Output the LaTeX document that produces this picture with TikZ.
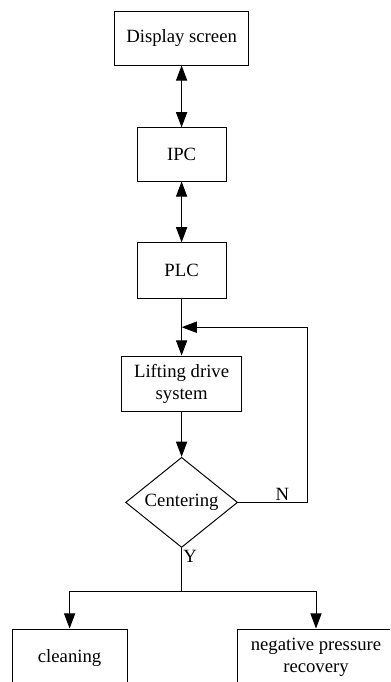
\documentclass[tikz,border=0pt]{standalone}
\usepackage{fontspec}
\setmainfont{Liberation Serif}
\usepackage{tikz}
\usetikzlibrary{arrows.meta,shapes.geometric}

\begin{document}
\begin{tikzpicture}[
    boxnode/.style={
        rectangle, draw=black, line width=0.7pt, fill=white,
        inner sep=0pt, align=center,
        font=\fontsize{13.3}{15.6}\selectfont
    },
    decnode/.style={
        diamond, draw=black, line width=0.7pt, inner sep=0pt,
        minimum width=2.8cm, minimum height=1.68cm,
        font=\fontsize{13.3}{15.6}\selectfont
    },
    arr/.style={-{Triangle[length=3.8mm,width=2.8mm]}, line width=0.7pt},
    biarr/.style={{Triangle[length=3.8mm,width=2.8mm]}-{Triangle[length=3.8mm,width=2.8mm]}, line width=0.7pt},
    lbl/.style={font=\fontsize{13.3}{15.6}\selectfont, inner sep=1pt}
]
\clip (0,0) rectangle (9.75,-17.05);

% Control chain (top to bottom)
\node[boxnode, minimum width=3.35cm, minimum height=1.33cm] (screen) at (4.54,-0.96) {Display screen};
\node[boxnode, minimum width=2.23cm, minimum height=1.33cm] (ipc) at (4.54,-3.86) {IPC};
\node[boxnode, minimum width=2.23cm, minimum height=1.38cm] (plc) at (4.54,-6.76) {PLC};
\node[boxnode, minimum width=3.0cm, minimum height=1.38cm] (lift) at (4.54,-9.59) {Lifting drive\\system};
\node[decnode] (cent) at (4.54,-12.56) {Centering};

% Outcomes (cut by the lower edge)
\node[boxnode, minimum width=2.88cm, minimum height=1.43cm] (clean) at (1.74,-16.44) {cleaning};
\node[boxnode, minimum width=3.95cm, minimum height=1.43cm] (neg) at (7.9,-16.44) {negative pressure\\recovery};

% Helper points for the loop and the branch
\coordinate (join) at (4.54,-8.18);
\coordinate (fbk) at (7.68,-8.18);
\coordinate (split) at (4.54,-14.78);

\draw[biarr] (screen) -- (ipc);
\draw[biarr] (ipc) -- (plc);
\draw[arr] (plc) -- (lift);
\draw[arr] (lift) -- (cent);

% Not centred: back to the lifting drive
\draw[arr] (cent.east) -- node[lbl, above, pos=0.64]{N} (cent.east -| fbk) -- (fbk) -- (join);

% Centred: both outcomes
\draw[line width=0.7pt] (cent.south) -- node[lbl, right, pos=0.2]{Y} (split);
\draw[arr] (split) -| (clean);
\draw[arr] (split) -| (neg);
\end{tikzpicture}
\end{document}
